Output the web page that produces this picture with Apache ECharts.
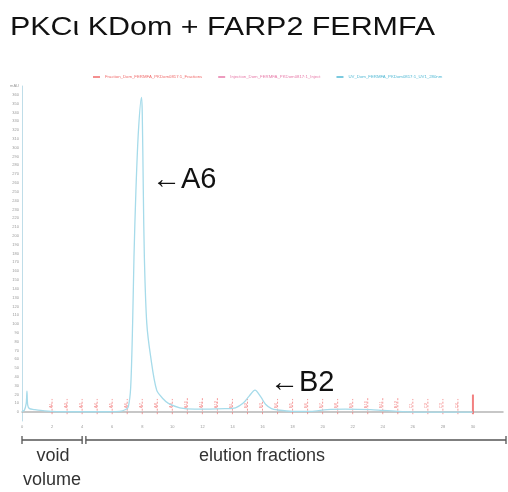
<!DOCTYPE html>
<html>
<head>
<meta charset="utf-8"/>
<title>PKCι KDom + FARP2 FERMFA</title>
<script src="https://cdn.jsdelivr.net/npm/echarts@6/dist/echarts.min.js"></script>
<style>
  html, body { margin: 0; padding: 0; background: #fff; }
  #chart { width: 508px; height: 492px; }
</style>
</head>
<body>
<div id="chart"></div>
<script>
// UV 280 nm trace (ml, mAU)
var uvVolume = [0, 0.15, 0.28, 0.33, 0.38, 0.5, 0.8, 1.5, 3, 5, 6.5, 6.9, 7.07, 7.23, 7.36, 7.45, 7.58, 7.75, 7.95,
    8.0, 8.07, 8.14, 8.3, 8.56, 8.96, 9.4, 9.74, 10.5, 11.5, 12.5, 13.5, 14.2, 14.7, 15.1, 15.5, 15.9, 16.2, 16.6,
    17, 18, 19.2, 20.3, 21.5, 23.2, 24, 25, 26.5, 28, 30];
var uvAbs = [1, 2, 10, 24, 8, 4, 3, 1.5, 0.5, 0.5, 1, 3, 6, 28, 101, 176, 252, 320, 357,
    340, 252, 176, 101, 63, 25, 15, 10, 5, 3.5, 3.5, 4, 5, 10, 18, 25, 17, 9, 4,
    2.5, 1, 1, 3, 3.5, 3, 2, 1, 0, 0, 0];

// fraction marks
var fracVolume = [2, 3, 4, 5, 6, 7, 8, 9, 10, 11, 12, 13, 14, 15, 16, 17, 18, 19, 20, 21, 22, 23, 24, 25, 26, 27, 28, 29, 30];
var fracName = ['A1', 'A2', 'A3', 'A4', 'A5', 'A6', 'A7', 'A8', 'A9', 'A10', 'A11', 'A12',
    'B1', 'B2', 'B3', 'B4', 'B5', 'B6', 'B7', 'B8', 'B9', 'B10', 'B11', 'B12',
    'C1', 'C2', 'C3', 'C4', 'Waste'];
var fracHeight = [15, 15, 15, 15, 15, 15, 15, 15, 15, 17, 17, 17, 15, 15, 15, 15, 15, 15, 15, 15, 15, 17, 17, 17,
    15, 15, 15, 15, 20];

var seriesNames = ['Fraction_Dom_FERMFA_PKDom0817:1_Fractions', 'Injection_Dom_FERMFA_PKDom0817:1_Inject',
    'UV_Dom_FERMFA_PKDom0817:1_UV1_280nm'];
var seriesColors = ['#f06a6a', '#e77aa8', '#4fb8d4'];

var uvData = uvVolume.map(function (v, i) { return [v, uvAbs[i]]; });
var fracData = fracVolume.map(function (v, i) { return [v, fracHeight[i]]; });

var myChart = echarts.init(document.getElementById('chart'));

var option = {
    animation: false,
    backgroundColor: '#fff',
    textStyle: {fontFamily: 'Liberation Sans, Arial, sans-serif'},
    legend: {
        left: 88,
        top: 70,
        itemWidth: 7,
        itemHeight: 1.5,
        itemGap: 16,
        icon: 'rect',
        textStyle: {fontSize: 4.3},
        data: seriesNames.map(function (n, i) {
            return {name: n, textStyle: {color: seriesColors[i]}};
        })
    },
    grid: {left: 22, right: 5, top: 86, bottom: 71, containLabel: false},
    xAxis: {
        type: 'value',
        min: 0,
        max: 32,
        interval: 2,
        axisLine: {lineStyle: {color: '#b5b5b5', width: 1.5}},
        axisTick: {show: false},
        axisLabel: {fontSize: 4, color: '#999', margin: 4, showMaxLabel: false},
        splitLine: {show: false}
    },
    yAxis: {
        type: 'value',
        min: -10,
        max: 370,
        interval: 10,
        axisLine: {show: true, onZero: false, lineStyle: {color: '#bfdde8', width: 1}},
        axisTick: {show: false},
        axisLabel: {
            fontSize: 4, color: '#999', margin: 3,
            formatter: function (v) {
                if (v < 0) return '';
                if (v === 370) return 'mAU';
                return v;
            }
        },
        splitLine: {show: false}
    },
    series: [
        {
            name: seriesNames[0],
            type: 'custom',
            itemStyle: {color: seriesColors[0]},
            data: fracData,
            renderItem: function (params, api) {
                var x = api.value(0), h = api.value(1);
                var p0 = api.coord([x, 0]);
                var p1 = api.coord([x, h]);
                var last = params.dataIndex === fracVolume.length - 1;
                return {
                    type: 'group',
                    children: [
                        {
                            type: 'line',
                            shape: {x1: p0[0], y1: p0[1] + 2, x2: p1[0], y2: p1[1]},
                            style: {stroke: seriesColors[0], lineWidth: last ? 2 : 0.8, lineDash: last ? null : [2, 1.5], opacity: 0.85}
                        },
                        {
                            type: 'text',
                            x: p0[0] - 1.5,
                            y: (p0[1] + p1[1]) / 2,
                            rotation: Math.PI / 2,
                            style: {
                                text: last ? '' : fracName[params.dataIndex],
                                fill: seriesColors[0], fontSize: 4,
                                align: 'center', verticalAlign: 'middle', opacity: 0.8
                            }
                        }
                    ]
                };
            }
        },
        {
            name: seriesNames[1],
            type: 'line',
            itemStyle: {color: seriesColors[1]},
            data: []
        },
        {
            name: seriesNames[2],
            type: 'line',
            smooth: 0.3,
            symbol: 'none',
            itemStyle: {color: seriesColors[2]},
            lineStyle: {color: '#a6dbea', width: 1.3},
            data: uvData,
            z: 3
        }
    ]
};
myChart.setOption(option);

// brackets under the x axis, tied to the axis scale
var v0 = myChart.convertToPixel({gridIndex: 0}, [0, 0]);
var v1 = myChart.convertToPixel({gridIndex: 0}, [4, 0]);
var e0 = myChart.convertToPixel({gridIndex: 0}, [4.25, 0]);
var e1 = myChart.convertToPixel({gridIndex: 0}, [32, 0]);
var by = 440;
var bc = '#555';
function bracket(xa, xb) {
    return [
        {type: 'line', shape: {x1: xa, y1: by, x2: xb, y2: by}, style: {stroke: bc, lineWidth: 1.3}},
        {type: 'line', shape: {x1: xa, y1: by - 4, x2: xa, y2: by + 4}, style: {stroke: bc, lineWidth: 1.3}},
        {type: 'line', shape: {x1: xb, y1: by - 4, x2: xb, y2: by + 4}, style: {stroke: bc, lineWidth: 1.3}}
    ];
}

myChart.setOption({
    graphic: [
        {
            type: 'text', left: 10, top: 15, scaleX: 1.17,
            style: {text: 'PKCι KDom + FARP2 FERMFA', font: '26px "Liberation Sans", Arial, sans-serif', fill: '#111'}
        },
        {
            type: 'text', x: 152, y: 180,
            style: {text: '←A6', font: '29px "Liberation Sans", Arial, sans-serif', fill: '#111', verticalAlign: 'middle'}
        },
        {
            type: 'text', x: 270, y: 383,
            style: {text: '←B2', font: '29px "Liberation Sans", Arial, sans-serif', fill: '#111', verticalAlign: 'middle'}
        },
        {
            type: 'text', x: 53, y: 456,
            style: {text: 'void', font: '18px "Liberation Sans", Arial, sans-serif', fill: '#333', align: 'center', verticalAlign: 'middle'}
        },
        {
            type: 'text', x: 52, y: 480,
            style: {text: 'volume', font: '18px "Liberation Sans", Arial, sans-serif', fill: '#333', align: 'center', verticalAlign: 'middle'}
        },
        {
            type: 'text', x: 262, y: 456,
            style: {text: 'elution fractions', font: '18px "Liberation Sans", Arial, sans-serif', fill: '#333', align: 'center', verticalAlign: 'middle'}
        }
    ].concat(bracket(v0[0], v1[0])).concat(bracket(e0[0], e1[0] + 3))
});
</script>
</body>
</html>
